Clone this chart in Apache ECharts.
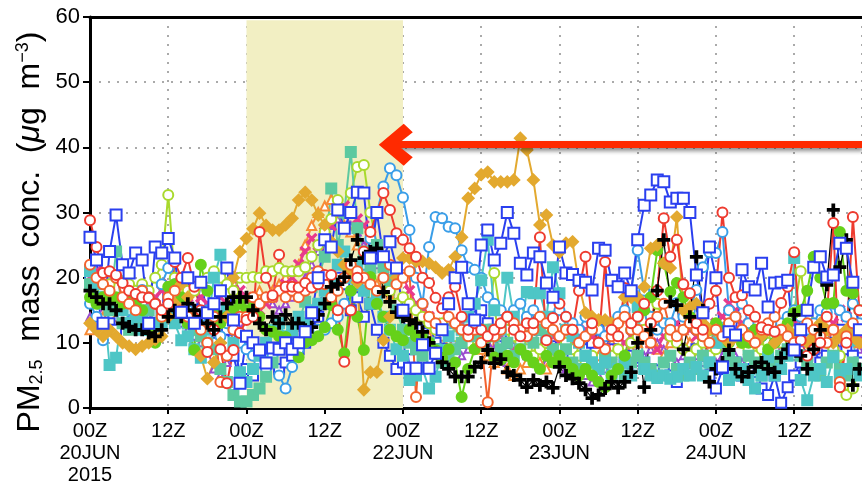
<!DOCTYPE html>
<html>
<head>
<meta charset="utf-8">
<script src="https://cdn.jsdelivr.net/npm/echarts@6/dist/echarts.min.js"></script>
<style>
  html, body { margin: 0; padding: 0; background: #fff; }
  #chart1 { width: 862px; height: 487px; }
</style>
</head>
<body>
<div id="chart1"></div>
<script>
// x tick labels, one every 12 hours from 00Z 20JUN 2015
var tickLabels = ["00Z\n20JUN\n2015", "12Z", "00Z\n21JUN", "12Z", "00Z\n22JUN",
  "12Z", "00Z\n23JUN", "12Z", "00Z\n24JUN", "12Z"];
var yTicks = [0, 10, 20, 30, 40, 50, 60];

// hourly PM2.5 (ug m-3), hour 0 = 00Z 20JUN
var blackPlus = [18,17,16,16,15,13,12.5,12,12,11.5,11,12,
  14,15,14,16,15,14,13,12,14,16,17,17,
  17,15,13,12,14,13,14.3,13,13,12,12.4,14.3,
  16,18.6,19,20.1,22.7,25.8,23,24,24.5,17.8,16.3,14.7,
  14,13.5,13,11.7,10,8.4,7,6,4.8,4.8,4.8,6.3,
  7,8.9,6.9,7.5,5.5,5,4.3,3.2,4.3,3.5,4,3.1,
  6.3,5,4.5,3.8,2.8,1.5,2,3,4,3.1,4,5.5,
  10,3.2,12,18,25.8,16.3,15.8,9,14,23.2,15,4,
  6,7,8.9,6,4.8,5.5,6.3,7,6,5.5,7.7,9,
  14.3,8,6,9,12,18.9,30.4,21.6,25.8,3.5,6];
var redCircle = [28.8,24.7,20.7,21,20.4,19.2,18,17.5,17,16.9,16,15,
  16,22.4,20,23,18.6,15,8.6,12,9,3.8,8.9,11.5,
  13.5,14,27,20,17.3,23.5,18.6,18.6,18.5,19.2,18.5,19,
  20.4,20.4,15,7.1,15,20,24,27,30,33,30.4,26.8,
  25.8,24.5,23.2,20,19.2,16.9,15.3,17,18.6,14,12,13,
  12,11,12,13,14,12,11,13,13,26.2,10.4,13.8,
  16,14,12,18,23.2,13,10,22.4,12,11,18.4,13,
  14,16,13,18,29.1,23.2,25.8,19,17.6,13,12,16,
  18,30,20,17,17.3,15,14,12.4,12,11.7,16.1,18.6,
  23.9,10.4,8,9,10,14,28.4,3.2,10,29.3,15];
var redCircle2 = [22,20,19,18,20,17,16,15,18,17,16,14,
  17,18,15,14,13,12,10,14,4,8,12,14,
  14,17,16,17,17,18,17,18,17,18,20,21,
  19,17,18,20,22,21,20,19,18,20,22,19,
  20,21,1.7,16,14,13,12,14,13,12,11,12,
  10,0.9,11,12,14,13,12,11,12,14,13,12,
  11,12,12,10,11,12,10,9,11,13,14,12,
  12,11,10,14,16,12,11,12,13,12,11,10,
  12,11,13,14,12,11,10,12,13,14,12,11,
  10,12,13,12,11,10,12,4,11,13,12];
var blueSquare = [26.2,22.7,13,24,29.6,22,20.7,23.8,22.7,13,24.7,23.8,
  26,23,14.7,20,13,19.3,14.6,16,18,21.5,13.5,3.8,
  11,10,8.9,6.9,9.2,9,10,9,10,11.7,14.6,20,
  25.8,24.7,30.4,27.6,30,33.1,33,23,30,23.2,25.5,21.5,
  15,6.1,6.1,9.7,6.1,8.4,12,16,20,21.6,16,13.5,
  25,27.3,22.7,25.3,30,26.8,22.2,20.4,23.8,23.2,19.2,17,
  24.7,20.7,20.5,19.6,19.3,18.1,24.5,24.2,19.6,18.6,20.7,18,
  25.8,31.1,32.7,35,34.7,31.6,32.2,32.2,30,20.4,14.6,24.7,
  20,6.3,11.7,11.2,21.2,18.6,18.1,22.2,15.5,19.2,19.3,19.6,
  8.9,12,15,21.6,23.2,20.1,20.4,25.3,24.5,19.3,12];
var blueSquare2 = [20,18,12,13,12,14,15,14,16,12,13,15,
  17,16,14,13,15,12,11,10,13,12,8,4,
  6,5,8,7,9,6,7,8,9,10,12,14,
  16,18,20,19,15,17,14,16,12,10,8,6,
  7,9,11,12,13,10,9,12,11,10,13,14,
  15,13,12,11,10,12,9,11,13,12,10,11,
  9,10,8,7,9,10,12,11,9,6,7,8,
  7.7,7,6,5.8,6,5,4,6,7,9,8,5,
  3,6,8,7,5,6,4,3,2,5,0.8,3.2,
  5,7,8,9,7,8,10,12,9,8,7];
var goldDiamond = [13,12,11,12,11,10,9.5,9,9.5,10,10.5,11,
  14,16,19,17,14,8,4.5,7,10,14,20,24,
  26,27.5,29.9,28,27.3,27.3,28.1,29.1,31.9,33.1,31.9,29.6,
  28.1,25.5,24,22,21,19.3,2.8,5.5,5.5,10.4,14,20,
  23,23,22.5,22.5,22.2,21.6,20.7,21.2,23.2,26.2,32.2,33.7,
  35.8,36.2,34.7,34.7,34.7,35,41.4,39.6,35,28.1,29.6,25,
  23.9,25.3,25.5,18.9,14.6,14,13.5,13.5,13,13,17,17,
  17,18.6,24.5,25,22.2,21.5,29.3,15,15.5,16,13,12,
  12,11,10,11,12,11,10,11,12,10,11,12,
  11,12,10,11,13,12,10,11,12,11,10];
var greenDot = [17,16,17,17,17,16,17,16,15,12,10,14,
  18.6,19,17,13,8.9,22,18,15,13,14,15,16,
  15,15.5,14,12,11.7,11,10.9,9,7.8,10.1,10.4,11,
  12.4,15.8,12,8.4,18,14,8.9,20.1,16,14,12,11,
  10.4,12,11,10.9,10,8.9,7.7,9,7,1.7,6,9,
  12,10.9,7.8,7.4,8,7,9,8,7,6,8,7,
  8,7,6,5,6,5,4,3.2,5,6,8,12,
  14,15,17,24.2,22.2,17.8,19.2,17,14,12,11,12,
  13,12,10,11,10,10,12,11,9,10,12,13,
  14.6,15,18,23.2,20,16,16.1,27,18,17.6,15];
var turquoiseSquare = [21,19,17,6.6,7.7,15,13,14,12,12,12.5,13,
  14.6,13,10.4,11,9,7.7,12,20,23.5,15,10,5.5,
  4,6,8,10,12,13,11,12,14,13,15,16,
  18,20,22,24,20,22,18,16,17,14,12,9,
  8,4.3,5,6,3,4.8,8.9,11,13,12,14,16,
  19.6,25.8,15,12,20,14,12,17.8,17.6,17.6,14,21.6,
  17.6,12,11,10,8,7,6,7,5,6,7,5,
  15.5,6,5,4.6,5,4.5,4.8,6,5,6.3,5,7,
  10,12.3,4.3,5,6,4.3,3,5,7.8,5,6,8,
  23,4.3,1.2,5,6,4,7.8,5,6,10.4,5];
var seaGreenSquare = [19,17,16,15,24,13,12,13,14,15,13,14,
  15,16,14,13,12,11,10,9,6,4,2,1,
  1,2,3,4.8,7,9,10,11.2,13,16.3,18.6,20,
  23.2,33.7,25,30,39.3,27.6,24,21.5,25,21.6,19.6,15,
  12,10,9,8,10,9,7,8,9,10,12,11,
  10,12,11,9,10,8,9,11,10,12,11,9,
  8,9,7,6,8,7,6,8,7,6,5,7,
  8,7,6,5,7,8,6,5,7,6,8,7,
  12,10,8,7,6,8,7,5,6,7,8,9,
  9,8,7,6,5,7,8,6,5,7,6];
var skyCircle = [16,14,10.4,15,16,14,15,16,18.1,17,16,19,
  21.5,19,16,15,13,14,15,12,11,13,12,10,
  9,8,7,6,8,5,3,6.3,9,10,11,12,
  12,13,14,16,18,19,22,26,30,34,36.8,35.7,
  32.3,27.3,20,16,24.7,29.3,29.1,27.8,27.6,24.2,21.6,21.2,
  20,17,16,15,14,15,16,14,15,13,12,14,
  15,14,13,12,14,13,12,11,13,14,15,18,
  24.2,18,14,12,13,13,16.1,14,15,18.1,21.6,23.9,
  23.8,27,15,14,16,13,12,11,12,10,13,14,
  15,14,12,13,15,14.6,16,15,14,16,13];
var limeCircle = [19,20,18,19,20,21,19,18,19,18,20,22,
  32.7,20,19,18,18,19,20,21,20,19,18,20,
  20,20.1,20,21,21,21.5,21,21,21,21.6,23.2,25,
  27,29,31.9,30,33,37,37.3,30,25,20,18,16,
  17,16,15,14,13,12,13,12,11,12,10,9,
  10,12,20.7,14,12,11,10,9,8,9,10,9,
  9,10,9,8,7,8,6,7,8,9,8,10,
  11,12,14,16,13,11,10,9,8,9,10,8,
  9,10,12,11,10,9,8,9,10,11,10,12,
  15,21,14,12,11,10,9,8,2,3,6];
var pinkCross = [20,21,19,18,17,16,17,18,17,16,17,18,
  19,18,17,16,18,17,16,15,17,19,20,18,
  17,16,15,16,17,18,19,20,22,24,26,25,
  27,28,30,31,30,29,28,26,24,22,20,21,
  20,18,16,15,14,13,12,11,12,13,12,11,
  10,11,12,11,10,9,10,11,12,13,12,11,
  10,9,10,11,12,11,10,9,8,9,10,11,
  12,11,10,9,11,12,13,14,12,11,10,12,
  13,14,16,15,13,12,11,10,9,10,11,12,
  13,14,12,11,10,12,13,15,14,12,11];
var purpleTri = [14,13,15,16,14,13,15,16,15,14,13,14,
  15,14,13,12,11,10,9,6,5,7,10,12,
  14,15,16,17,16,15,16,17,18,20,22,24,
  26,28,29,30,28,27,25,24,22,20,18,16,
  15,14,13,12,11,10,9,10,9,8,9,10,
  9,10,9,8,7,8,9,8,7,6,7,8,
  7,6,5,6,5,4,5,6,5,6,7,6,
  7,8,9,10,9,8,7,8,9,8,7,6,
  7,8,9,8,7,6,7,8,9,10,9,8,
  9,10,11,10,9,8,9,10,9,8,9];
var orangeTri = [12,13,14,15,14,13,12,13,14,13,12,13,
  14,15,16,15,14,13,12,11,12,13,14,15,
  16,17,18,17,18,19,20,21,22,25,28,30,
  31,32,30,28,27,25,22,20,19,18,17,16,
  15,14,13,12,11,10,11,10,9,10,11,10,
  9,8,7,8,6,5,6,7,8,7,6,7,
  8,9,8,7,6,7,8,9,10,9,8,9,
  10,11,10,9,8,10,11,12,10,9,8,9,
  10,11,12,11,10,9,10,11,12,11,10,9,
  10,11,12,13,12,11,10,11,12,11,10];

// shaded period and the arrow (hours, ug m-3)
var shadeHours = [24, 48];
var arrowLine = [[46.9, 40.4], [118.4, 40.4]];

var plusPath = "path://M4.2,0H5.8V4.2H10V5.8H5.8V10H4.2V5.8H0V4.2H4.2Z";
var crossPath = "path://M1,0L5,4L9,0L10,1L6,5L10,9L9,10L5,6L1,10L0,9L4,5L0,1Z";
var chevron = "path://M20,0L40,22L32,30L20,16L8,30L0,22Z";

function mk(name, vals, color, symbol, size, width) {
  return {
    type: "line",
    name: name,
    data: vals.map(function (v, i) { return [i, v]; }),
    symbol: symbol,
    symbolSize: size,
    z: 3,
    lineStyle: { color: color, width: width || 2 },
    itemStyle: { color: color, borderColor: color, borderWidth: 2 },
    emphasis: { disabled: true }
  };
}

var chart1 = echarts.init(document.getElementById("chart1"), null, { renderer: "canvas" });
var option1 = {
  animation: false,
  backgroundColor: "#fff",
  grid: { left: 90, right: 0, top: 17, bottom: 79 },
  graphic: [{
    type: "text",
    x: 30,
    y: 232,
    rotation: Math.PI / 2,
    style: {
      text: "PM{s|2.5}  mass  conc.  ({mu|μ}g  m{p|−3})",
      fontFamily: "Liberation Sans",
      fontSize: 32,
      fill: "#000",
      align: "center",
      verticalAlign: "middle",
      rich: {
        s: { fontSize: 18, fontFamily: "Liberation Sans", fill: "#000", verticalAlign: "bottom" },
        p: { fontSize: 18, fontFamily: "Liberation Sans", fill: "#000", verticalAlign: "top" },
        mu: { fontSize: 32, fontFamily: "Liberation Sans", fontStyle: "italic", fill: "#000" }
      }
    }
  }],
  xAxis: [{
    type: "value",
    min: 0,
    max: 118.4,
    interval: 12,
    axisLine: { lineStyle: { color: "#000", width: 3 } },
    axisTick: { length: 6, lineStyle: { color: "#000", width: 2 } },
    axisLabel: {
      color: "#000",
      fontFamily: "Liberation Sans",
      fontSize: 20,
      lineHeight: 22,
      margin: 12,
      showMaxLabel: false,
      formatter: function (v) {
        var k = Math.round(v / 12);
        return Math.abs(v - 12 * k) < 1e-6 && k < tickLabels.length ? tickLabels[k] : "";
      }
    },
    splitLine: { show: true, lineStyle: { color: "#aaa", width: 2, type: [2, 7] } }
  }, {
    type: "value",
    position: "top",
    min: 0,
    max: 118.4,
    axisLine: { show: true, onZero: false, lineStyle: { color: "#000", width: 3 } },
    axisTick: { show: false },
    axisLabel: { show: false },
    splitLine: { show: false }
  }],
  yAxis: {
    type: "value",
    min: yTicks[0],
    max: yTicks[yTicks.length - 1],
    interval: 10,
    axisLine: { show: true, lineStyle: { color: "#000", width: 3 } },
    axisTick: { show: true, length: 7, lineStyle: { color: "#000", width: 2 } },
    axisLabel: { color: "#000", fontFamily: "Liberation Sans", fontSize: 22, margin: 10 },
    splitLine: { show: true, lineStyle: { color: "#aaa", width: 2, type: [2, 7] } }
  },
  series: [
    {
      type: "line",
      data: [],
      z: 1,
      markArea: {
        silent: true,
        itemStyle: { color: "#f2efc3" },
        data: [[{ xAxis: shadeHours[0], yAxis: 0 }, { xAxis: shadeHours[1], yAxis: 59.5 }]]
      }
    },
    mk("purple", purpleTri, "#9a4bd0", "emptyTriangle", 7),
    mk("orange", orangeTri, "#f78b35", "emptyTriangle", 9),
    mk("blue2", blueSquare2, "#2a3fef", "emptyRect", 10),
    mk("pink", pinkCross, "#e8398c", crossPath, 9),
    mk("lime", limeCircle, "#a9d92d", "emptyCircle", 10),
    mk("sky", skyCircle, "#3a9ee8", "emptyCircle", 10),
    mk("seagreen", seaGreenSquare, "#5dc9a0", "rect", 10),
    mk("turquoise", turquoiseSquare, "#4ec6c6", "rect", 10),
    mk("green", greenDot, "#66d11a", "circle", 10),
    mk("gold", goldDiamond, "#e3a92f", "diamond", 11),
    mk("red2", redCircle2, "#f2622e", "emptyCircle", 10),
    mk("red", redCircle, "#ee3b2f", "emptyCircle", 10),
    mk("black", blackPlus, "#000000", plusPath, 11, 1.2),
    mk("blue", blueSquare, "#2a3fef", "emptyRect", 11),
    {
      type: "line",
      data: [],
      z: 10,
      markLine: {
        silent: true,
        symbol: [chevron, "none"],
        symbolSize: [42, 34],
        label: { show: false },
        lineStyle: {
          color: "#ff2a00", width: 7, type: "solid",
          shadowColor: "rgba(0,0,0,0.45)", shadowBlur: 4, shadowOffsetX: 1, shadowOffsetY: 3
        },
        data: [[{ coord: arrowLine[0] }, { coord: arrowLine[1] }]]
      }
    }
  ]
};
chart1.setOption(option1);
</script>
</body>
</html>
